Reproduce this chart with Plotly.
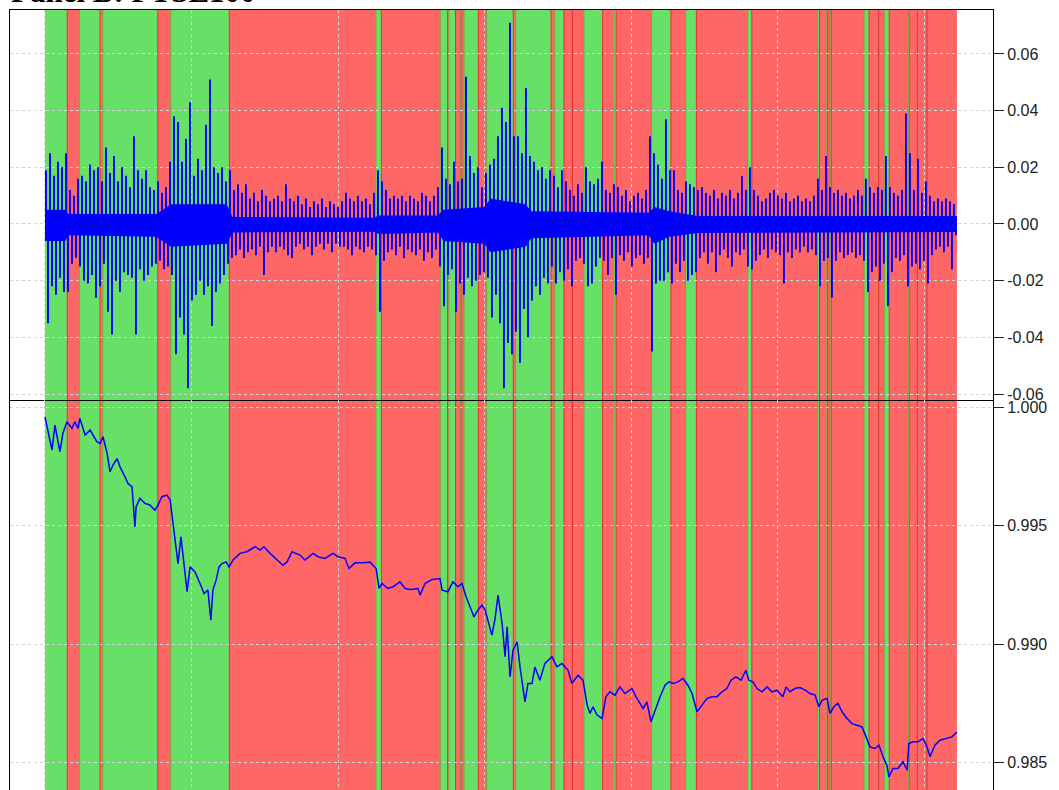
import plotly.graph_objects as go

# ---------------- data ----------------
N_OBS = 3112  # number of observations (x index)

# regime boundaries (observation index) and state of each segment (G = green regime, R = red regime)
regime_bounds = [0, 76, 117, 188, 197, 385, 429, 629, 1129, 1148, 1349, 1374, 1378, 1401, 1415,
                 1420, 1430, 1479, 1507, 1598, 1606, 1727, 1739, 1771, 1797, 1800, 1839, 1903,
                 1941, 1949, 2070, 2136, 2186, 2223, 2398, 2412, 2636, 2643, 2668, 2671, 2679,
                 2683, 2795, 2812, 2842, 2845, 2864, 2881, 2944, 2949, 2977, 3010, 3112]
regime_state = list("GRGRGRGRGRGRGRGRGRGRGRGRGRGRGRGRGRGRGRGRGRGRGRGRGRRR")

# daily returns: per-bin upper and lower extremes (228 equal bins)
ret_hi = [0.019, 0.025, 0.017, 0.022, 0.020, 0.025, 0.012, 0.010, 0.016, 0.017,
          0.015, 0.021, 0.019, 0.020, 0.015, 0.027, 0.018, 0.024, 0.015, 0.020,
          0.017, 0.013, 0.031, 0.019, 0.016, 0.019, 0.013, 0.012, 0.015, 0.011,
          0.013, 0.022, 0.038, 0.036, 0.022, 0.030, 0.043, 0.017, 0.023, 0.019,
          0.035, 0.051, 0.020, 0.018, 0.020, 0.015, 0.019, 0.012, 0.014, 0.011,
          0.014, 0.009, 0.011, 0.008, 0.012, 0.010, 0.008, 0.009, 0.010, 0.008,
          0.014, 0.009, 0.008, 0.010, 0.007, 0.009, 0.006, 0.008, 0.007, 0.009,
          0.006, 0.008, 0.007, 0.006, 0.008, 0.011, 0.009, 0.008, 0.010, 0.008,
          0.009, 0.007, 0.011, 0.019, 0.015, 0.012, 0.009, 0.010, 0.009, 0.010,
          0.008, 0.010, 0.009, 0.008, 0.011, 0.010, 0.008, 0.010, 0.013, 0.027,
          0.016, 0.014, 0.022, 0.015, 0.016, 0.052, 0.024, 0.018, 0.020, 0.013,
          0.018, 0.021, 0.023, 0.031, 0.041, 0.036, 0.071, 0.031, 0.031, 0.025,
          0.048, 0.024, 0.022, 0.019, 0.020, 0.016, 0.019, 0.017, 0.013, 0.019,
          0.015, 0.012, 0.010, 0.014, 0.011, 0.020, 0.015, 0.014, 0.016, 0.022,
          0.012, 0.011, 0.014, 0.013, 0.010, 0.012, 0.008, 0.010, 0.011, 0.009,
          0.012, 0.031, 0.025, 0.021, 0.016, 0.037, 0.019, 0.019, 0.012, 0.011,
          0.015, 0.014, 0.013, 0.012, 0.013, 0.011, 0.010, 0.012, 0.009, 0.011,
          0.010, 0.012, 0.009, 0.011, 0.017, 0.012, 0.020, 0.012, 0.010, 0.008,
          0.009, 0.011, 0.012, 0.010, 0.009, 0.011, 0.008, 0.009, 0.010, 0.008,
          0.009, 0.008, 0.010, 0.016, 0.012, 0.024, 0.013, 0.011, 0.012, 0.010,
          0.011, 0.009, 0.010, 0.012, 0.010, 0.016, 0.013, 0.011, 0.013, 0.012,
          0.024, 0.013, 0.011, 0.010, 0.012, 0.039, 0.025, 0.012, 0.023, 0.011,
          0.015, 0.010, 0.008, 0.009, 0.008, 0.009, 0.008, 0.007]
ret_lo = [-0.035, -0.022, -0.025, -0.019, -0.024, -0.024, -0.014, -0.012, -0.015, -0.020,
          -0.021, -0.018, -0.026, -0.022, -0.014, -0.031, -0.039, -0.020, -0.024, -0.017,
          -0.018, -0.019, -0.039, -0.016, -0.020, -0.018, -0.015, -0.014, -0.013, -0.016,
          -0.015, -0.018, -0.046, -0.033, -0.039, -0.058, -0.027, -0.025, -0.020, -0.025,
          -0.022, -0.036, -0.024, -0.021, -0.018, -0.014, -0.012, -0.011, -0.009, -0.012,
          -0.010, -0.009, -0.011, -0.008, -0.018, -0.010, -0.008, -0.010, -0.008, -0.009,
          -0.011, -0.012, -0.008, -0.007, -0.009, -0.008, -0.011, -0.008, -0.007, -0.009,
          -0.007, -0.010, -0.007, -0.008, -0.008, -0.009, -0.011, -0.008, -0.009, -0.010,
          -0.008, -0.009, -0.011, -0.031, -0.013, -0.010, -0.009, -0.011, -0.008, -0.012,
          -0.009, -0.010, -0.011, -0.009, -0.013, -0.010, -0.012, -0.009, -0.015, -0.029,
          -0.018, -0.016, -0.031, -0.021, -0.025, -0.019, -0.022, -0.020, -0.018, -0.017,
          -0.019, -0.033, -0.025, -0.035, -0.058, -0.042, -0.046, -0.038, -0.049, -0.030,
          -0.040, -0.027, -0.022, -0.025, -0.019, -0.021, -0.015, -0.021, -0.017, -0.020,
          -0.016, -0.022, -0.013, -0.012, -0.014, -0.022, -0.021, -0.015, -0.012, -0.013,
          -0.018, -0.012, -0.025, -0.011, -0.013, -0.010, -0.015, -0.012, -0.011, -0.014,
          -0.012, -0.045, -0.021, -0.020, -0.020, -0.017, -0.021, -0.014, -0.017, -0.013,
          -0.020, -0.018, -0.017, -0.012, -0.010, -0.014, -0.010, -0.017, -0.011, -0.009,
          -0.012, -0.015, -0.010, -0.011, -0.009, -0.015, -0.016, -0.013, -0.011, -0.009,
          -0.012, -0.009, -0.010, -0.011, -0.021, -0.010, -0.012, -0.009, -0.010, -0.008,
          -0.010, -0.009, -0.011, -0.022, -0.013, -0.012, -0.026, -0.013, -0.010, -0.012,
          -0.011, -0.010, -0.012, -0.011, -0.013, -0.024, -0.017, -0.015, -0.020, -0.014,
          -0.029, -0.017, -0.012, -0.013, -0.011, -0.022, -0.015, -0.014, -0.016, -0.013,
          -0.021, -0.011, -0.009, -0.008, -0.010, -0.008, -0.016, -0.004]

# dense core of the returns band (where the blue is solid)
core_t = [0, 70, 80, 380, 430, 620, 640, 1120, 1140, 1340, 1360, 1500, 1520, 1640, 1660,
          2060, 2080, 2130, 2230, 3112]
core_up = [0.005, 0.005, 0.0035, 0.0035, 0.007, 0.007, 0.0025, 0.0022, 0.003, 0.003, 0.005,
           0.006, 0.009, 0.007, 0.0045, 0.004, 0.006, 0.0045, 0.0028, 0.0028]
core_dn = [-0.006, -0.006, -0.004, -0.0045, -0.008, -0.007, -0.003, -0.0027, -0.0035, -0.003,
           -0.006, -0.007, -0.010, -0.008, -0.005, -0.004, -0.007, -0.0045, -0.0032, -0.0028]

cum_t = [0, 24, 34, 51, 61, 75, 92, 102, 113, 119, 137, 154, 177, 188, 198, 212, 222, 232, 246,
         256, 273, 283, 297, 307, 311, 324, 341, 358, 375, 386, 399, 416, 427, 437, 447, 454,
         464, 474, 485, 495, 512, 529, 543, 556, 566, 573, 584, 594, 604, 618, 628, 642, 665,
         689, 717, 734, 747, 768, 788, 812, 826, 843, 870, 887, 915, 932, 955, 983, 1000, 1024,
         1037, 1058, 1085, 1109, 1130, 1140, 1150, 1170, 1188, 1211, 1229, 1246, 1273, 1280,
         1297, 1321, 1348, 1355, 1375, 1392, 1409, 1423, 1437, 1450, 1464, 1474, 1491, 1502,
         1512, 1525, 1536, 1546, 1560, 1570, 1577, 1587, 1597, 1611, 1621, 1638, 1648, 1662,
         1672, 1689, 1706, 1730, 1747, 1764, 1785, 1798, 1819, 1836, 1850, 1860, 1870, 1884,
         1901, 1914, 1928, 1945, 1962, 1979, 2003, 2017, 2041, 2054, 2068, 2082, 2099, 2116,
         2129, 2143, 2160, 2177, 2194, 2208, 2225, 2242, 2259, 2276, 2293, 2310, 2327, 2341,
         2358, 2375, 2392, 2402, 2416, 2430, 2447, 2464, 2481, 2498, 2518, 2529, 2542, 2559,
         2576, 2594, 2611, 2628, 2641, 2652, 2669, 2679, 2692, 2706, 2720, 2737, 2754, 2771,
         2788, 2802, 2815, 2832, 2846, 2860, 2873, 2880, 2894, 2911, 2928, 2942, 2948, 2962,
         2979, 2996, 3010, 3020, 3037, 3054, 3078, 3095, 3112]
cum_v = [0.99959, 0.99819, 0.99924, 0.99812, 0.99889, 0.99938, 0.99910, 0.99938, 0.99910,
         0.99952, 0.99882, 0.99903, 0.99854, 0.99847, 0.99875, 0.99805, 0.99727, 0.99755,
         0.99783, 0.99748, 0.99706, 0.99678, 0.99664, 0.99495, 0.99580, 0.99615, 0.99594,
         0.99587, 0.99565, 0.99587, 0.99622, 0.99629, 0.99608, 0.99509, 0.99425, 0.99340,
         0.99453, 0.99340, 0.99221, 0.99326, 0.99305, 0.99256, 0.99214, 0.99228, 0.99101,
         0.99228, 0.99270, 0.99326, 0.99340, 0.99347, 0.99326, 0.99355, 0.99383, 0.99390,
         0.99411, 0.99397, 0.99411, 0.99383, 0.99362, 0.99333, 0.99347, 0.99390, 0.99376,
         0.99355, 0.99383, 0.99369, 0.99362, 0.99383, 0.99369, 0.99362, 0.99319, 0.99343,
         0.99343, 0.99346, 0.99319, 0.99235, 0.99256, 0.99235, 0.99242, 0.99263, 0.99235,
         0.99231, 0.99235, 0.99207, 0.99256, 0.99273, 0.99277, 0.99228, 0.99221, 0.99263,
         0.99242, 0.99256, 0.99200, 0.99158, 0.99115, 0.99137, 0.99165, 0.99144, 0.99101,
         0.99038, 0.99108, 0.99207, 0.99087, 0.98947, 0.99073, 0.98862, 0.98975, 0.99010,
         0.98904, 0.98757, 0.98834, 0.98834, 0.98904, 0.98848, 0.98919, 0.98947, 0.98904,
         0.98919, 0.98890, 0.98834, 0.98869, 0.98848, 0.98743, 0.98708, 0.98736, 0.98701,
         0.98687, 0.98778, 0.98799, 0.98785, 0.98820, 0.98792, 0.98813, 0.98778, 0.98729,
         0.98757, 0.98672, 0.98722, 0.98778, 0.98827, 0.98841, 0.98834, 0.98841, 0.98855,
         0.98827, 0.98792, 0.98715, 0.98743, 0.98771, 0.98778, 0.98778, 0.98799, 0.98813,
         0.98848, 0.98862, 0.98848, 0.98890, 0.98848, 0.98841, 0.98813, 0.98799, 0.98820,
         0.98799, 0.98806, 0.98778, 0.98820, 0.98799, 0.98813, 0.98817, 0.98806, 0.98792,
         0.98785, 0.98736, 0.98764, 0.98771, 0.98708, 0.98736, 0.98750, 0.98715, 0.98687,
         0.98665, 0.98658, 0.98651, 0.98609, 0.98567, 0.98560, 0.98574, 0.98525, 0.98490,
         0.98440, 0.98476, 0.98476, 0.98504, 0.98469, 0.98581, 0.98588, 0.98588, 0.98602,
         0.98567, 0.98525, 0.98574, 0.98595, 0.98602, 0.98609, 0.98630]

x_grid = [0, 500, 1000, 1500, 2000, 2500, 3000]
top_tickvals = [0.06, 0.04, 0.02, 0.00, -0.02, -0.04, -0.06]
top_ticktext = ["0.06", "0.04", "0.02", "0.00", "-0.02", "-0.04", "-0.06"]
bot_tickvals = [1.000, 0.995, 0.990, 0.985]
bot_ticktext = ["1.000", "0.995", "0.990", "0.985"]
title_text = "Panel B: FTSE100"

# ---------------- styling ----------------
FILL = {"G": "rgb(102,224,102)", "R": "rgb(255,102,102)"}
EDGE = {"G": "rgb(140,150,60)", "R": "rgb(232,45,40)"}
TOP_DOMAIN = [0.4937, 0.9873]
BOT_DOMAIN = [0.0, 0.4937]
X_RANGE = [-119.4, 3235.1]
BLUE = "#0000FF"

# returns drawn as vertical spikes from zero to each bin extreme
nb = len(ret_hi)
bw = N_OBS / nb
rx, ry = [], []
for k in range(nb):
    xh, xl = (k + 0.25) * bw, (k + 0.75) * bw
    rx += [xh, xh, None, xl, xl, None]
    ry += [0, ret_hi[k], None, 0, ret_lo[k], None]

fig = go.Figure()
fig.add_trace(go.Scatter(x=core_t + core_t[::-1], y=core_up + core_dn[::-1], mode="lines",
                         fill="toself", fillcolor=BLUE, line=dict(width=0, color=BLUE),
                         xaxis="x", yaxis="y", showlegend=False, hoverinfo="skip"))
fig.add_trace(go.Scatter(x=rx, y=ry, mode="lines", line=dict(color=BLUE, width=1.9),
                         connectgaps=False, xaxis="x", yaxis="y", showlegend=False,
                         hoverinfo="skip"))
fig.add_trace(go.Scatter(x=cum_t, y=cum_v, mode="lines", line=dict(color=BLUE, width=1.5),
                         xaxis="x2", yaxis="y2", showlegend=False, hoverinfo="skip"))

shapes = []
for i, st in enumerate(regime_state):
    x0, x1 = regime_bounds[i], regime_bounds[i + 1]
    shapes.append(dict(type="rect", xref="x", yref="paper", x0=x0, x1=x1,
                       y0=0, y1=TOP_DOMAIN[1], fillcolor=FILL[st], line=dict(width=0),
                       layer="below"))
for i, st in enumerate(regime_state):
    if i == 0:
        continue
    x0 = regime_bounds[i]
    shapes.append(dict(type="line", xref="x", yref="paper", x0=x0, x1=x0,
                       y0=0, y1=TOP_DOMAIN[1], line=dict(color=EDGE[st], width=1),
                       layer="below"))

grid = dict(showgrid=True, gridcolor="#D3D3D3", griddash="dot", gridwidth=1)
tickfont = dict(family="Liberation Sans, Arial, sans-serif", size=16, color="#222222")

fig.update_layout(
    width=1059, height=790,
    margin=dict(l=10, r=66, t=0, b=0, autoexpand=False),
    paper_bgcolor="white", plot_bgcolor="white",
    shapes=shapes,
    xaxis=dict(domain=[0, 1], range=X_RANGE, tickvals=x_grid, showticklabels=False,
               ticks="", showline=True, mirror=True, linecolor="black", linewidth=1,
               zeroline=False, anchor="y", **grid),
    yaxis=dict(domain=TOP_DOMAIN, range=[-0.0621, 0.0755], side="right", anchor="x",
               tickvals=top_tickvals, ticktext=top_ticktext, ticks="outside", ticklen=10,
               tickcolor="#222222", tickfont=tickfont, showline=True, mirror=True,
               linecolor="black", linewidth=1, zeroline=False, **grid),
    xaxis2=dict(domain=[0, 1], range=X_RANGE, tickvals=x_grid, showticklabels=False,
                ticks="", showline=False, zeroline=False, anchor="y2", **grid),
    yaxis2=dict(domain=BOT_DOMAIN, range=[0.98385, 1.0003], side="right", anchor="x2",
                tickvals=bot_tickvals, ticktext=bot_ticktext, ticks="outside", ticklen=10,
                tickcolor="#222222", tickfont=tickfont, showline=True, mirror=True,
                linecolor="black", linewidth=1, zeroline=False, **grid),
    annotations=[dict(text="<b>" + title_text + "</b>", xref="paper", yref="paper",
                      x=0, y=1, xanchor="left", yanchor="bottom", yshift=-11, xshift=-1,
                      showarrow=False,
                      font=dict(family="Liberation Serif, Times New Roman, serif",
                                size=31, color="black"))],
)

fig.write_html("out.html", config={"displayModeBar": False},
               post_script="document.body.style.margin='0';document.body.style.overflow='hidden';")
